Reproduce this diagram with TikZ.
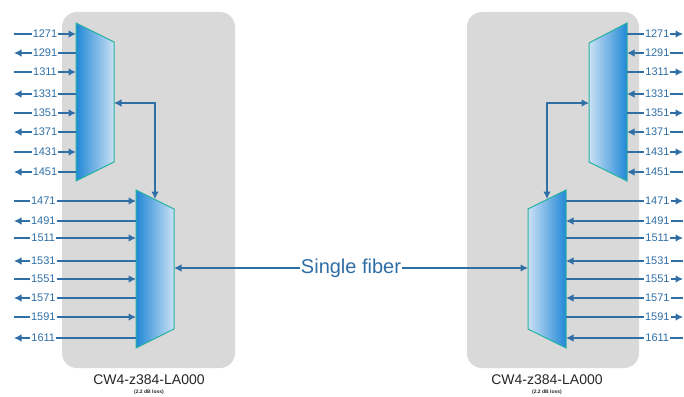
\documentclass[tikz,border=0pt]{standalone}
\usepackage{fontspec}
\setmainfont{Liberation Sans}
\usetikzlibrary{arrows.meta}

\definecolor{wireblue}{RGB}{47,111,166}
\definecolor{muxedge}{RGB}{38,178,160}
\definecolor{muxdark}{RGB}{33,136,214}
\definecolor{muxlight}{RGB}{202,225,245}
\definecolor{cardgray}{RGB}{217,217,217}

\begin{document}
\begin{tikzpicture}[x=1pt,y=-1pt]
        \tikzstyle{every path}=[line width=1.1pt]

        \tikzstyle{card}=[fill=cardgray,rounded corners=15pt]
        \tikzstyle{muxL}=[left color=muxdark,right color=muxlight,draw=muxedge,line width=1pt]
        \tikzstyle{muxR}=[left color=muxlight,right color=muxdark,draw=muxedge,line width=1pt]
        \tikzstyle{wire}=[draw=wireblue]
        \tikzstyle{rgo}=[-{Latex[length=7.5pt,width=7.5pt]}]
        \tikzstyle{lgo}=[{Latex[length=7.5pt,width=7.5pt]}-]
        \tikzstyle{both}=[{Latex[length=7.5pt,width=7.5pt]}-{Latex[length=7.5pt,width=7.5pt]}]
        \tikzstyle{lam}=[text=wireblue,fill=white,inner sep=1pt,font=\fontsize{11}{12}\selectfont]
        \tikzstyle{cardname}=[text=black!85,font=\fontsize{14}{16}\selectfont]
        \tikzstyle{loss}=[text=black!85,font=\fontsize{5}{6}\selectfont\bfseries]

        \useasboundingbox (0,0) rectangle (684,396);

        % the two cards
        \node [card,minimum width=173,minimum height=356] (cardL) at (148.5,190) {};
        \node [card,minimum width=172,minimum height=356] (cardR) at (553,190) {};
        \node [cardname] (nameL) at (149,380) {CW4-z384-LA000};
        \node [loss] (lossL) at (149,392) {(2.2 dB loss)};
        \node [cardname] (nameR) at (547,380) {CW4-z384-LA000};
        \node [loss] (lossR) at (547,392) {(2.2 dB loss)};

        % filters
        \path[muxL] (76,23) -- (114,42) -- (114,162) -- (76,181) -- cycle;     % left top
        \path[muxL] (136,190) -- (174,209) -- (174,329) -- (136,348) -- cycle; % left bottom
        \path[muxR] (589,43) -- (627,23) -- (627,181) -- (589,162) -- cycle;   % right top
        \path[muxR] (528,209) -- (566,190) -- (566,348) -- (528,329) -- cycle; % right bottom

        \coordinate (ltcom) at (114,103);
        \coordinate (lbcom) at (155,199);
        \coordinate (lbline) at (174,268);
        \coordinate (rtcom) at (589,103);
        \coordinate (rbcom) at (547,199);
        \coordinate (rbline) at (528,268);

        % channels 1271..1451
        \foreach \y/\w/\d in {34/1271/rgo,53/1291/lgo,72/1311/rgo,94/1331/lgo,
                              113/1351/rgo,132/1371/lgo,152/1431/rgo,172/1451/lgo} {
            \coordinate (ltx\w) at (14,\y);
            \coordinate (ltp\w) at (76,\y);
            \coordinate (rtp\w) at (627,\y);
            \coordinate (rtx\w) at (683,\y);
            \draw[wire,\d] (ltx\w) -- node[lam,pos=0.5] (lt\w) {\w} (ltp\w);
            \draw[wire,\d] (rtp\w) -- node[lam,pos=0.54] (rt\w) {\w} (rtx\w);
        };

        % channels 1471..1611
        \foreach \y/\w/\d in {201/1471/rgo,221/1491/lgo,238/1511/rgo,261/1531/lgo,
                              279/1551/rgo,298/1571/lgo,317/1591/rgo,338/1611/lgo} {
            \coordinate (lbx\w) at (14,\y);
            \coordinate (lbp\w) at (136,\y);
            \coordinate (rbp\w) at (566,\y);
            \coordinate (rbx\w) at (683,\y);
            \draw[wire,\d] (lbx\w) -- node[lam,pos=0.24] (lb\w) {\w} (lbp\w);
            \draw[wire,\d] (rbp\w) -- node[lam,pos=0.78] (rb\w) {\w} (rbx\w);
        };

        \draw[wire,both] (ltcom) -| (lbcom);    % top filter -> bottom filter
        \draw[wire,both] (rtcom) -| (rbcom);
        \draw[wire,both] (lbline) -- node[fill=white,inner sep=1pt,text=wireblue,
                font=\fontsize{20}{22}\selectfont] (fiber) {Single fiber} (rbline);

\end{tikzpicture}
\end{document}
